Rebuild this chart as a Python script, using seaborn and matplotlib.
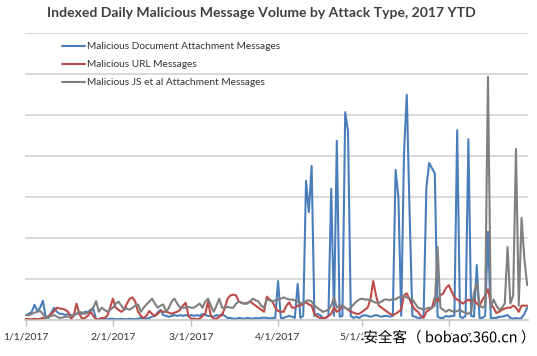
import numpy as np
import pandas as pd
import matplotlib
matplotlib.use("Agg")
import matplotlib.pyplot as plt
import matplotlib.dates as mdates
import matplotlib.patheffects as pe
import seaborn as sns

#%% data (indexed daily volume, Jan 1 .. Jun 29 2017)
doc_attach = [
    # Jan
    0.12, 0.15, 0.2, 0.37, 0.22, 0.3, 0.47, 0.08, 0.05, 0.18, 0.3, 0.2, 0.15, 0.15, 0.12, 0.15,
    0.12, 0.12, 0.15, 0.18, 0.15, 0.2, 0.2, 0.22, 0.27, 0.02, 0.02, 0.03, 0.02, 0.02, 0.03,
    # Feb
    0.03, 0.02, 0.02, 0.03, 0.02, 0.02, 0.03, 0.02, 0.02, 0.03, 0.05, 0.04, 0.03, 0.05,
    0.08, 0.1, 0.18, 0.25, 0.12, 0.1, 0.08, 0.1, 0.12, 0.1, 0.12, 0.1, 0.12, 0.1,
    # Mar
    0.12, 0.1, 0.12, 0.1, 0.15, 0.12, 0.1, 0.1, 0.08, 0.12, 0.1, 0.15, 0.1, 0.05, 0.05, 0.03,
    0.03, 0.05, 0.04, 0.03, 0.05, 0.04, 0.03, 0.05, 0.04, 0.05, 0.06, 0.05, 0.04, 0.05, 0.05,
    # Apr
    0.95, 0.05, 0.05, 0.08, 0.1, 0.08, 0.05, 0.88, 0.05, 0.1, 3.39, 2.63, 3.76, 0.1, 0.15,
    0.12, 0.05, 0.05, 0.1, 3.2, 0.1, 4.37, 0.08, 0.1, 5.07, 4.6, 0.1, 0.05, 0.08, 0.05,
    # May
    0.1, 0.12, 0.1, 0.08, 0.1, 0.12, 0.1, 0.08, 0.1, 0.1, 0.08, 0.1, 3.66, 3.0, 0.1, 4.07,
    5.49, 2.6, 0.1, 0.08, 0.05, 0.05, 0.1, 3.24, 3.83, 3.7, 3.58, 0.08, 0.05, 0.05, 0.1,
    # Jun
    0.08, 0.1, 0.1, 4.63, 0.08, 0.05, 0.1, 4.41, 0.1, 0.08, 1.34, 0.05, 0.05, 0.1, 2.15,
    0.05, 0.05, 0.05, 0.08, 0.08, 0.1, 0.12, 0.05, 0.03, 0.05, 0.03, 0.05, 0.15, 0.3,
]
url_msgs = [
    # Jan
    0.03, 0.02, 0.02, 0.03, 0.02, 0.03, 0.05, 0.05, 0.1, 0.15, 0.22, 0.3, 0.28, 0.27, 0.25, 0.2,
    0.03, 0.1, 0.4, 0.15, 0.03, 0.05, 0.1, 0.2, 0.1, 0.02, 0.02, 0.05, 0.05, 0.1, 0.3,
    # Feb
    0.52, 0.3, 0.25, 0.2, 0.25, 0.4, 0.52, 0.55, 0.45, 0.2, 0.1, 0.05, 0.1, 0.22,
    0.15, 0.1, 0.15, 0.22, 0.2, 0.2, 0.18, 0.15, 0.18, 0.2, 0.25, 0.35, 0.42, 0.1,
    # Mar
    0.03, 0.03, 0.02, 0.03, 0.1, 0.15, 0.45, 0.1, 0.03, 0.03, 0.08, 0.12, 0.3, 0.52, 0.6, 0.62,
    0.6, 0.45, 0.42, 0.4, 0.42, 0.45, 0.4, 0.35, 0.3, 0.25, 0.2, 0.57, 0.5, 0.45, 0.3,
    # Apr
    0.22, 0.2, 0.2, 0.35, 0.43, 0.3, 0.3, 0.35, 0.35, 0.4, 0.43, 0.38, 0.35, 0.15, 0.08,
    0.05, 0.05, 0.05, 0.1, 0.15, 0.3, 0.2, 0.25, 0.35, 0.3, 0.25, 0.2, 0.18, 0.15, 0.15,
    # May
    0.2, 0.25, 0.3, 0.5, 0.95, 0.6, 0.35, 0.3, 0.25, 0.2, 0.15, 0.12, 0.15, 0.2, 0.25, 0.6,
    0.65, 0.5, 0.35, 0.25, 0.2, 0.1, 0.05, 0.2, 0.25, 0.3, 0.55, 0.45, 0.6, 0.65, 0.78,
    # Jun
    0.85, 0.7, 0.55, 0.5, 0.45, 0.4, 0.45, 0.5, 0.45, 0.5, 0.4, 0.35, 0.49, 0.6, 0.75,
    0.4, 0.3, 0.17, 0.2, 0.25, 0.28, 0.3, 0.3, 0.35, 0.3, 0.2, 0.35, 0.35, 0.35,
]
js_attach = [
    # Jan
    0.12, 0.12, 0.15, 0.18, 0.2, 0.22, 0.15, 0.05, 0.08, 0.1, 0.12, 0.08, 0.05, 0.06, 0.08, 0.08,
    0.1, 0.12, 0.15, 0.2, 0.18, 0.15, 0.18, 0.25, 0.3, 0.46, 0.2, 0.3, 0.25, 0.2, 0.25,
    # Feb
    0.3, 0.4, 0.45, 0.35, 0.25, 0.28, 0.25, 0.3, 0.35, 0.38, 0.2, 0.3, 0.38, 0.45,
    0.52, 0.4, 0.3, 0.35, 0.38, 0.2, 0.3, 0.45, 0.52, 0.4, 0.3, 0.3, 0.3, 0.32,
    # Mar
    0.3, 0.3, 0.35, 0.4, 0.3, 0.45, 0.52, 0.35, 0.2, 0.35, 0.52, 0.3, 0.3, 0.32, 0.3, 0.3,
    0.4, 0.45, 0.42, 0.4, 0.4, 0.45, 0.52, 0.48, 0.45, 0.35, 0.3, 0.5, 0.48, 0.45, 0.48,
    # Apr
    0.5, 0.52, 0.55, 0.52, 0.5, 0.5, 0.48, 0.45, 0.42, 0.4, 0.47, 0.48, 0.45, 0.35, 0.3,
    0.25, 0.2, 0.22, 0.25, 0.35, 0.55, 0.3, 0.35, 0.35, 0.3, 0.25, 0.3, 0.38, 0.45, 0.5,
    # May
    0.52, 0.5, 0.5, 0.48, 0.45, 0.42, 0.42, 0.45, 0.5, 0.5, 0.48, 0.52, 0.5, 0.55, 0.57, 0.59,
    0.55, 0.52, 0.5, 0.4, 0.3, 0.28, 0.25, 0.28, 0.3, 0.3, 0.35, 1.78, 0.3, 0.25, 0.2,
    # Jun
    0.25, 0.22, 0.2, 0.22, 0.25, 0.2, 0.18, 0.15, 0.2, 0.66, 0.9, 0.35, 0.3, 0.35, 5.93,
    0.3, 0.5, 0.35, 0.25, 0.3, 0.4, 1.78, 0.4, 0.6, 4.17, 0.35, 2.49, 1.5, 0.85,
]
series_names = ["Malicious Document Attachment Messages",
                "Malicious URL Messages",
                "Malicious JS et al Attachment Messages"]
tick_labels = ["1/1/2017", "2/1/2017", "3/1/2017", "4/1/2017", "5/1/2017", "6/1/2017"]

dates = pd.date_range("2017-01-01", periods=len(doc_attach), freq="D")
df = pd.DataFrame({"date": dates,
                   series_names[0]: doc_attach,
                   series_names[1]: url_msgs,
                   series_names[2]: js_attach})
df_long = df.melt(id_vars="date", var_name="type", value_name="volume")

#%% plot
sns.set_style("white")
plt.rcParams["font.family"] = ["Lato", "DejaVu Sans"]

colors = {series_names[0]: "#4a7ebb", series_names[1]: "#be4b48", series_names[2]: "#7f7f7f"}

fig = plt.figure(figsize=(5.37, 3.56), dpi=100)
ax = fig.add_axes([25 / 537, 36 / 356, 503 / 537, 287 / 356])

sns.lineplot(data=df_long, x="date", y="volume", hue="type", hue_order=series_names,
             palette=colors, linewidth=1.5, ax=ax, legend=True)

ax.set_ylim(0, 7)
ax.set_yticks(np.arange(1, 8))
ax.set_yticklabels([])
ax.tick_params(axis="y", length=0)
ax.grid(axis="y", color="#cfcfcf", linewidth=1.1)
ax.set_axisbelow(True)
for s in ["left", "right", "top"]:
    ax.spines[s].set_visible(False)
ax.spines["bottom"].set_color("#bfbfbf")
ax.spines["bottom"].set_linewidth(1.1)

x0 = mdates.date2num(dates[0])
ax.set_xlim(x0 - 0.4, x0 + len(dates) - 0.7)
ax.set_xticks(pd.to_datetime(["2017-01-01", "2017-02-01", "2017-03-01",
                              "2017-04-01", "2017-05-01", "2017-06-01"]))
ax.set_xticklabels(tick_labels, fontsize=7.5, color="#333333")
ax.tick_params(axis="x", length=4, color="#bfbfbf", width=1, pad=5, direction="out", bottom=True)
ax.set_xlabel("")
ax.set_ylabel("")

ax.legend(loc="upper left", bbox_to_anchor=(0.055, 1.0), frameon=False, fontsize=7.3,
          handlelength=2.3, handletextpad=0.15, labelspacing=0.88, labelcolor="#333333")

fig.suptitle("Indexed Daily Malicious Message Volume by Attack Type, 2017 YTD",
             x=0.486, y=0.98, fontsize=10.1, fontweight="bold", color="#404040")

fig.text(0.998, 0.05, "安全客（ bobao.360.cn ）", ha="right", va="center", fontsize=10.5,
         family=["Noto Sans CJK SC", "DejaVu Sans"], color="black",
         path_effects=[pe.withStroke(linewidth=2.5, foreground="white")])

plt.savefig("out.png", dpi=100)
